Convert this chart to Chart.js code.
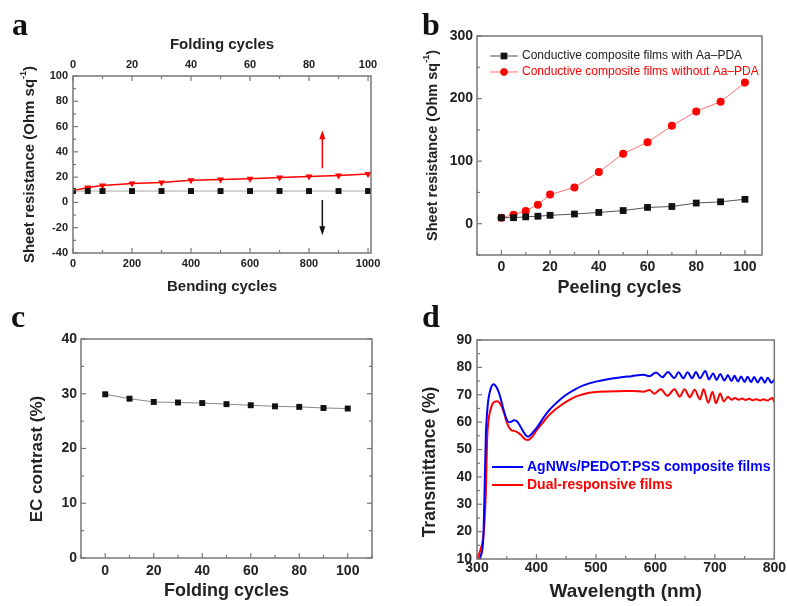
<!DOCTYPE html>
<html>
<head>
<meta charset="utf-8">
<script src="https://cdn.jsdelivr.net/npm/chart.js@4.4.1/dist/chart.umd.min.js"></script>
<style>
body { margin: 0; background: #fff; width: 787px; height: 606px; position: relative; overflow: hidden; }
canvas { position: absolute; }
.tag { position: absolute; font: bold 32px 'Liberation Serif', 'Times New Roman', serif; line-height: 32px; color: #111; }
</style>
</head>
<body>
<canvas id="chartA" width="390" height="300" style="left:0;top:0"></canvas>
<canvas id="chartB" width="397" height="300" style="left:390px;top:0"></canvas>
<canvas id="chartC" width="390" height="306" style="left:0;top:300px"></canvas>
<canvas id="chartD" width="397" height="306" style="left:390px;top:300px"></canvas>
<div class="tag" style="left:12px;top:8px">a</div>
<div class="tag" style="left:422px;top:8px">b</div>
<div class="tag" style="left:11px;top:300px">c</div>
<div class="tag" style="left:422px;top:300px">d</div>
<script>
const FONT = "'Liberation Sans', Arial, sans-serif";

// PANEL A : bending (bottom axis) and folding (top axis)
const bendCycles = [0, 50, 100, 200, 300, 400, 500, 600, 700, 800, 900, 1000];
const bendRes = [9, 9, 9, 9, 9, 9, 9, 9, 9, 9, 9, 9];
const foldCyclesA = [0, 5, 10, 20, 30, 40, 50, 60, 70, 80, 90, 100];
const foldRes = [9.2, 11.8, 13.4, 15, 15.8, 17.6, 18.2, 18.7, 19.7, 20.5, 21.3, 22.4];
const bendTicks = [0, 200, 400, 600, 800, 1000];
const foldTopTicks = [0, 20, 40, 60, 80, 100];
const resTicksA = [-40, -20, 0, 20, 40, 60, 80, 100];

// PANEL B : peeling
const peelCycles = [0, 5, 10, 15, 20, 30, 40, 50, 60, 70, 80, 90, 100];
const peelWith = [9.6, 9.6, 11, 12, 13.4, 15.5, 18, 21, 26, 27.5, 33, 35, 39];
const peelWithout = [9.6, 14.5, 20.5, 30.5, 46.5, 58, 82.5, 112, 130, 156.5, 179.5, 195, 225.5];
const peelTicks = [0, 20, 40, 60, 80, 100];
const resTicksB = [0, 100, 200, 300];

// PANEL C : EC contrast
const foldCycles = [0, 10, 20, 30, 40, 50, 60, 70, 80, 90, 100];
const ecContrast = [29.9, 29.1, 28.5, 28.4, 28.3, 28.1, 27.9, 27.7, 27.6, 27.4, 27.3];
const foldTicks = [0, 20, 40, 60, 80, 100];
const ecTicks = [0, 10, 20, 30, 40];

// PANEL D : transmittance spectra
const blueWl = [302, 306, 309, 311, 313, 315, 317, 319, 321, 324, 327, 330, 334, 338, 342, 346, 350, 354, 358,
  362, 366, 370, 374, 378, 382, 386, 390, 395, 400, 410, 420, 430, 440, 450, 465, 480, 500, 520, 540, 560, 580,
  590, 601, 612, 621, 632, 639, 647, 654, 662, 668, 675, 684, 690, 697, 703, 709, 716, 722, 728, 733, 739, 744,
  750, 755, 761, 766, 772, 778, 784, 789, 795, 800];
const blueT = [8, 11, 13.5, 19.5, 37.8, 56, 63.5, 68, 70.5, 72.8, 73.8, 73.6, 72.3, 70, 66.8, 63.5, 61, 60, 60.2,
  60.7, 60.5, 59.5, 58, 56.5, 55.2, 54.7, 55.3, 56.5, 57.8, 61, 64, 66.3, 68.3, 70, 72, 73.5, 74.8, 75.7, 76.3, 76.8, 77.3,
  76.8, 78.1, 76.4, 78.3, 76.1, 78.2, 76, 78.2, 76, 78.3, 76, 78.7, 75.6, 77.8, 75.4, 77.6, 75.2, 77.2, 75, 76.9, 74.8, 76.7,
  74.7, 76.6, 74.6, 76.5, 74.5, 76.4, 74.4, 76.2, 74.4, 75.5];
const redWl = [300, 303, 306, 309, 311, 313, 315, 317, 319, 321, 324, 327, 330, 334, 338, 342, 346, 350, 354, 358,
  362, 366, 370, 374, 378, 382, 386, 390, 395, 400, 410, 420, 430, 440, 450, 465, 480, 500, 520, 540, 560, 580,
  590, 598, 609, 620, 632, 641, 649, 658, 666, 675, 681, 689, 696, 702, 709, 715, 722, 728, 734, 740, 746, 752,
  758, 764, 770, 776, 782, 788, 794, 797, 800];
const redT = [9.5, 11.5, 13.5, 16, 19, 25, 35, 53.5, 60, 63, 65.5, 67, 67.5, 67.6, 67, 65.5, 63, 60, 58, 57,
  56.8, 56.5, 56, 55.3, 54.3, 53.6, 53.5, 54, 55.3, 57, 59.6, 62.3, 64.3, 66, 67.4, 69.2, 70.3, 71, 71.2, 71.3, 71.4, 71.1,
  71.7, 70.4, 72, 69.6, 72, 69.3, 72, 69.1, 71.8, 68.3, 72, 67.1, 71.1, 66.9, 70.5, 67.5, 69.3, 68.2, 68.8, 68.2, 68.6, 68.1,
  68.5, 68, 68.4, 67.9, 68.4, 67.9, 68.6, 68.8, 67.2];
const wlTicks = [300, 400, 500, 600, 700, 800];
const transTicks = [10, 20, 30, 40, 50, 60, 70, 80, 90];

const pts = (xs, ys) => xs.map((x, i) => ({x: x, y: ys[i]}));

// frame with inward major / minor ticks
function frame(axes) {
  return {
    id: 'frame',
    afterDraw(chart) {
      const ctx = chart.ctx, a = chart.chartArea;
      ctx.save();
      ctx.strokeStyle = '#777';
      ctx.lineWidth = 1.5;
      ctx.strokeRect(a.left, a.top, a.right - a.left, a.bottom - a.top);
      ctx.lineWidth = 1.2;
      axes.forEach(ax => {
        const s = chart.scales[ax.id];
        const major = s.ticks.map(t => t.value);
        for (let v = Math.ceil(s.min / ax.minor) * ax.minor; v <= s.max + 1e-9; v += ax.minor) {
          const len = major.some(m => Math.abs(m - v) < 1e-6) ? 5 : 3;
          const p = s.getPixelForValue(v);
          ctx.beginPath();
          if (ax.side === 'bottom') { ctx.moveTo(p, a.bottom); ctx.lineTo(p, a.bottom - len); }
          if (ax.side === 'top') { ctx.moveTo(p, a.top); ctx.lineTo(p, a.top + len); }
          if (ax.side === 'left') { ctx.moveTo(a.left, p); ctx.lineTo(a.left + len, p); }
          if (ax.side === 'right') { ctx.moveTo(a.right, p); ctx.lineTo(a.right - len, p); }
          ctx.stroke();
        }
      });
      ctx.restore();
    }
  };
}

// rotated y title, optional superscript
function sideTitle(t) {
  return {
    id: 'sideTitle',
    afterDraw(chart) {
      const ctx = chart.ctx, a = chart.chartArea;
      const cy = t.y != null ? t.y : (a.top + a.bottom) / 2;
      const main = 'bold ' + t.size + 'px ' + FONT;
      const small = 'bold ' + Math.round(t.size * 0.6) + 'px ' + FONT;
      ctx.save();
      ctx.translate(t.x, cy);
      ctx.rotate(-Math.PI / 2);
      ctx.fillStyle = '#222';
      ctx.textBaseline = 'middle';
      ctx.textAlign = 'left';
      ctx.font = main;
      const w1 = ctx.measureText(t.text).width;
      const w3 = t.sup ? ctx.measureText(')').width : 0;
      ctx.font = small;
      const w2 = t.sup ? ctx.measureText(t.sup).width : 0;
      let x = -(w1 + w2 + w3) / 2;
      ctx.font = main;
      ctx.fillText(t.text, x, 0);
      x += w1;
      if (t.sup) {
        ctx.font = small;
        ctx.fillText(t.sup, x, -t.size * 0.42);
        x += w2;
        ctx.font = main;
        ctx.fillText(')', x, 0);
      }
      ctx.restore();
    }
  };
}

// legend row: line + marker + label
function lineLegend(items, font) {
  return {
    id: 'lineLegend',
    afterDraw(chart) {
      const ctx = chart.ctx;
      items.forEach(it => {
        const ds = chart.data.datasets[it.ds];
        ctx.save();
        ctx.strokeStyle = ds.borderColor;
        ctx.lineWidth = ds.borderWidth;
        ctx.beginPath();
        ctx.moveTo(it.x0, it.y);
        ctx.lineTo(it.x1, it.y);
        ctx.stroke();
        if (ds.pointRadius) {
          ctx.fillStyle = ds.pointBackgroundColor;
          ctx.strokeStyle = ds.pointBorderColor;
          Chart.helpers.drawPoint(ctx, {pointStyle: ds.pointStyle, radius: ds.pointRadius * 0.85, rotation: 0, borderWidth: 1},
            (it.x0 + it.x1) / 2, it.y);
        }
        ctx.font = font;
        ctx.fillStyle = it.color;
        ctx.textBaseline = 'middle';
        ctx.fillText(ds.label, it.tx, it.y);
        ctx.restore();
      });
    }
  };
}

// arrows in panel a
const arrowMarks = [
  {x: 845, from: 27, to: 57, color: '#ff0000'},
  {x: 845, from: 2, to: -26, color: '#111'}
];
const arrows = {
  id: 'arrows',
  afterDatasetsDraw(chart) {
    const ctx = chart.ctx, xs = chart.scales.x, ys = chart.scales.y;
    arrowMarks.forEach(m => {
      const x = xs.getPixelForValue(m.x);
      const y0 = ys.getPixelForValue(m.from), y1 = ys.getPixelForValue(m.to);
      const dir = Math.sign(y1 - y0);
      ctx.save();
      ctx.strokeStyle = m.color;
      ctx.fillStyle = m.color;
      ctx.lineWidth = 1.5;
      ctx.beginPath();
      ctx.moveTo(x, y0);
      ctx.lineTo(x, y1 - dir * 6);
      ctx.stroke();
      ctx.beginPath();
      ctx.moveTo(x, y1);
      ctx.lineTo(x - 3, y1 - dir * 9);
      ctx.lineTo(x + 3, y1 - dir * 9);
      ctx.closePath();
      ctx.fill();
      ctx.restore();
    });
  }
};

function axis(min, max, ticks, size, pad, extra) {
  return Object.assign({
    type: 'linear', min: min, max: max,
    grid: {display: false, drawTicks: false},
    border: {display: false},
    afterBuildTicks: s => { s.ticks = ticks.map(v => ({value: v})); },
    ticks: {
      callback: v => String(v), color: '#222', padding: pad, autoSkip: false, maxRotation: 0,
      font: {family: FONT, size: size, weight: 'bold'}
    }
  }, extra);
}

function xTitle(text, size, padding) {
  return {display: true, text: text, color: '#222', padding: padding, font: {family: FONT, size: size, weight: 'bold'}};
}

const base = (padding, scales) => ({
  responsive: false,
  animation: false,
  devicePixelRatio: 1,
  events: [],
  layout: {padding: padding},
  plugins: {legend: {display: false}, tooltip: {enabled: false}},
  scales: scales
});

// PANEL A
new Chart(document.getElementById('chartA'), {
  type: 'line',
  data: {
    datasets: [{
      label: 'Bending',
      data: pts(bendCycles, bendRes),
      xAxisID: 'x', yAxisID: 'y',
      borderColor: '#aaa', borderWidth: 1,
      pointStyle: 'rect', pointRadius: 4.2, pointBackgroundColor: '#111', pointBorderColor: '#111', pointBorderWidth: 0
    }, {
      label: 'Folding',
      data: pts(foldCyclesA, foldRes),
      xAxisID: 'x2', yAxisID: 'y',
      borderColor: '#ff0000', borderWidth: 1.5,
      pointStyle: 'triangle', pointRotation: 180, pointRadius: 4,
      pointBackgroundColor: '#ff0000', pointBorderColor: '#ff0000', pointBorderWidth: 0
    }]
  },
  options: base({top: 0, right: 19, left: 0, bottom: 0}, {
    x: axis(0, 1010, bendTicks, 11, 4, {position: 'bottom', afterFit: s => { s.height = 47; },
      title: xTitle('Bending cycles', 15, {top: 0, bottom: 4})}),
    x2: axis(0, 101, foldTopTicks, 11, 4, {position: 'top', afterFit: s => { s.height = 76; },
      title: xTitle('Folding cycles', 15, {top: 36, bottom: 0})}),
    y: axis(-40, 100, resTicksA, 11, 5, {position: 'left', afterFit: s => { s.width = 73; }})
  }),
  plugins: [
    frame([{id: 'y', side: 'left', minor: 10}, {id: 'x', side: 'bottom', minor: 100}, {id: 'x2', side: 'top', minor: 10}]),
    sideTitle({text: 'Sheet resistance (Ohm sq', sup: '-1', x: 30, size: 15}),
    arrows
  ]
});

// PANEL B
new Chart(document.getElementById('chartB'), {
  type: 'line',
  data: {
    datasets: [{
      label: 'Conductive composite films with Aa\u2013PDA',
      data: pts(peelCycles, peelWith),
      borderColor: '#555', borderWidth: 1,
      pointStyle: 'rect', pointRadius: 4.8, pointBackgroundColor: '#111', pointBorderColor: '#111', pointBorderWidth: 0
    }, {
      label: 'Conductive composite films without Aa\u2013PDA',
      data: pts(peelCycles, peelWithout),
      borderColor: '#ff7070', borderWidth: 1,
      pointStyle: 'circle', pointRadius: 4, pointBackgroundColor: '#ff0000', pointBorderColor: '#ff0000', pointBorderWidth: 0
    }]
  },
  options: base({top: 36, right: 25, left: 0, bottom: 0}, {
    x: axis(-10, 107, peelTicks, 14, 4, {position: 'bottom', afterFit: s => { s.height = 45; },
      title: xTitle('Peeling cycles', 18, {top: 0, bottom: 1})}),
    y: axis(-50, 300, resTicksB, 14, 4, {position: 'left', afterFit: s => { s.width = 87; }})
  }),
  plugins: [
    frame([{id: 'y', side: 'left', minor: 50}, {id: 'x', side: 'bottom', minor: 10}]),
    sideTitle({text: 'Sheet resistance (Ohm sq', sup: '-1', x: 43, size: 14.5}),
    lineLegend([
      {ds: 0, x0: 100, x1: 128, tx: 132, y: 56, color: '#222'},
      {ds: 1, x0: 100, x1: 128, tx: 132, y: 72, color: '#ff0000'}
    ], '12px ' + FONT)
  ]
});

// PANEL C
new Chart(document.getElementById('chartC'), {
  type: 'line',
  data: {
    datasets: [{
      label: 'EC contrast',
      data: pts(foldCycles, ecContrast),
      borderColor: '#888', borderWidth: 1,
      pointStyle: 'rect', pointRadius: 4.2, pointBackgroundColor: '#111', pointBorderColor: '#111', pointBorderWidth: 0
    }]
  },
  options: base({top: 39, right: 18, left: 0, bottom: 0}, {
    x: axis(-10, 110, foldTicks, 14, 5, {position: 'bottom', afterFit: s => { s.height = 48; },
      title: xTitle('Folding cycles', 18, {top: 0, bottom: 4})}),
    y: axis(0, 40, ecTicks, 14, 4, {position: 'left', afterFit: s => { s.width = 81; }})
  }),
  plugins: [
    frame([{id: 'y', side: 'left', minor: 5}, {id: 'y', side: 'right', minor: 5}, {id: 'x', side: 'bottom', minor: 10}]),
    sideTitle({text: 'EC contrast (%)', x: 37, y: 159, size: 17})
  ]
});

// PANEL D
new Chart(document.getElementById('chartD'), {
  type: 'line',
  data: {
    datasets: [{
      label: 'AgNWs/PEDOT:PSS composite films',
      data: pts(blueWl, blueT),
      borderColor: '#0000ff', borderWidth: 2, pointRadius: 0, cubicInterpolationMode: 'monotone'
    }, {
      label: 'Dual-responsive films',
      data: pts(redWl, redT),
      borderColor: '#ff0000', borderWidth: 2, pointRadius: 0, cubicInterpolationMode: 'monotone'
    }]
  },
  options: base({top: 40, right: 12, left: 0, bottom: 0}, {
    x: axis(300, 800, wlTicks, 14, 1, {position: 'bottom', afterFit: s => { s.height = 47; },
      title: xTitle('Wavelength (nm)', 19, {top: 0, bottom: 3})}),
    y: axis(10, 90, transTicks, 14, 5, {position: 'left', afterFit: s => { s.width = 87; }})
  }),
  plugins: [
    frame([{id: 'y', side: 'left', minor: 5}, {id: 'x', side: 'bottom', minor: 50}]),
    sideTitle({text: 'Transmittance (%)', x: 40, y: 162, size: 17.5}),
    lineLegend([
      {ds: 0, x0: 102, x1: 133, tx: 137, y: 167, color: '#0000ff'},
      {ds: 1, x0: 102, x1: 133, tx: 137, y: 185, color: '#ff0000'}
    ], 'bold 14px ' + FONT)
  ]
});
</script>
</body>
</html>
